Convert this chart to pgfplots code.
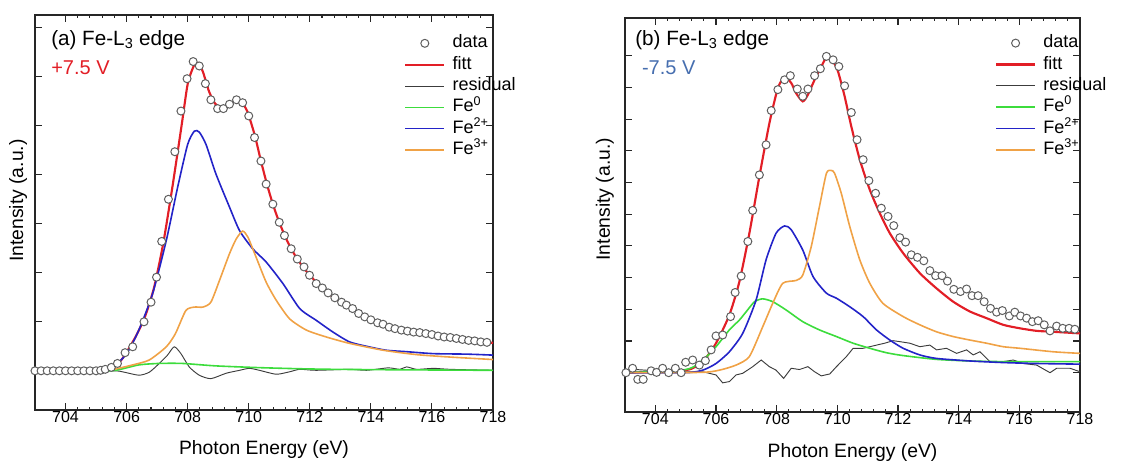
\documentclass[border=0pt]{standalone}
\usepackage{fontspec}
\setmainfont{Liberation Sans}
\usepackage{pgfplots}
\pgfplotsset{compat=1.18}

\definecolor{fitred}{RGB}{226,30,38}
\definecolor{resgray}{RGB}{60,60,60}
\definecolor{fezero}{RGB}{60,220,60}
\definecolor{fetwo}{RGB}{35,35,200}
\definecolor{fethree}{RGB}{240,162,70}
\definecolor{datagray}{RGB}{95,95,95}
\definecolor{negblue}{RGB}{70,110,175}

\pgfplotsset{
  xas/.style={
    scale only axis,
    xmin=703, xmax=718,
    xtick={704,706,...,718},
    minor x tick num=4,
    yticklabels={},
    tick align=inside,
    tick pos=both,
    xticklabel pos=lower,
    major tick length=5pt,
    minor tick length=2.5pt,
    axis line style={line width=0.9pt, black!85},
    tick style={line width=0.8pt, black!85},
    tick label style={font=\fontsize{12}{14}\selectfont},
    /pgf/number format/assume math mode=true,
    xticklabel style={inner sep=1pt},
    label style={font=\fontsize{14.5}{17}\selectfont},
    xlabel={Photon Energy (eV)},
    ylabel={Intensity (a.u.)},
    legend cell align=left,
    legend style={draw=none, fill=none, anchor=north west, inner sep=0pt,
      font=\fontsize{13.5}{16}\selectfont,
      nodes={text height=10pt, text depth=3pt, inner sep=1.5pt}, column sep=4pt},
    legend image code/.code={\draw[#1] (0pt,0pt) -- (29pt,0pt);},
  },
  datastyle/.style={only marks, mark=*, mark size=3pt,
    mark options={draw=datagray, fill=white, line width=0.75pt},
    legend image code/.code={\draw[mark repeat=2,mark phase=2,#1] plot coordinates {(0pt,0pt) (14.5pt,0pt) (29pt,0pt)};}},
  fitstyle/.style={fitred, line width=1.6pt, smooth, tension=0.4},
  resstyle/.style={resgray, line width=0.7pt},
  zerostyle/.style={fezero, line width=1.2pt, smooth, tension=0.4},
  twostyle/.style={fetwo, line width=1.2pt, smooth, tension=0.4},
  threestyle/.style={fethree, line width=1.2pt, smooth, tension=0.4},
}

\begin{document}
\begin{tikzpicture}
\path[use as bounding box] (0pt,0pt) rectangle (847.5pt,345.75pt);

% (a) +7.5 V
\begin{axis}[xas,
  at={(26.25pt,38.25pt)}, anchor=south west,
  width=343.5pt, height=296.25pt,
  ymin=-0.8, ymax=7.26,
  ytick={0,...,7},
  xlabel style={at={(axis description cs:0.5,-0.099)}, anchor=center},
  ylabel style={at={(axis description cs:-0.037,0.53)}, anchor=center},
  legend style={at={(rel axis cs:0.806,0.956)}},
]
\addplot[datastyle] coordinates {
(703.0,0)(703.2,0)(703.4,0)(703.6,0)(703.8,0)(704.0,0)(704.2,0)(704.4,0)(704.6,0)(704.8,0)(705.0,0)(705.15,0.01)(705.3,0.03)(705.5,0.07)(705.7,0.15)(705.95,0.37)(706.2,0.49)(706.57,1.0)(706.8,1.4)(706.98,1.91)(707.15,2.64)(707.37,3.5)(707.58,4.47)(707.78,5.3)(707.98,5.96)(708.18,6.31)(708.38,6.22)(708.58,5.86)(708.76,5.53)(708.98,5.35)(709.17,5.35)(709.37,5.44)(709.6,5.53)(709.8,5.47)(710.0,5.2)(710.19,4.76)(710.4,4.28)(710.57,3.81)(710.79,3.4)(711.0,3.03)(711.17,2.76)(711.39,2.49)(711.59,2.28)(711.81,2.12)(711.99,1.95)(712.21,1.78)(712.41,1.69)(712.6,1.59)(712.82,1.49)(713.04,1.40)(713.2,1.34)(713.4,1.27)(713.6,1.17)(713.8,1.10)(714.0,1.04)(714.22,0.98)(714.4,0.95)(714.6,0.89)(714.79,0.86)(715.0,0.83)(715.2,0.81)(715.4,0.79)(715.6,0.78)(715.8,0.76)(716.0,0.74)(716.2,0.71)(716.4,0.69)(716.6,0.68)(716.8,0.66)(717.0,0.64)(717.2,0.62)(717.4,0.61)(717.6,0.59)(717.8,0.58)
};
\addlegendentry{data}
\addplot[fitstyle] coordinates {
(703,0)(705,0.01)(705.5,0.06)(705.8,0.2)(706.0,0.38)(706.3,0.7)(706.6,1.1)(706.9,1.7)(707.2,2.6)(707.5,3.75)(707.8,5.0)(708.0,5.85)(708.2,6.22)(708.35,6.28)(708.5,6.1)(708.7,5.7)(708.9,5.45)(709.1,5.38)(709.3,5.42)(709.55,5.5)(709.75,5.48)(709.95,5.3)(710.2,4.8)(710.4,4.28)(710.6,3.8)(710.8,3.38)(711.0,3.03)(711.2,2.73)(711.4,2.48)(711.6,2.27)(711.8,2.1)(712.0,1.95)(712.3,1.75)(712.6,1.58)(712.9,1.45)(713.2,1.33)(713.5,1.22)(713.8,1.12)(714.1,1.03)(714.4,0.95)(714.8,0.87)(715.2,0.81)(715.6,0.77)(716.0,0.73)(716.5,0.68)(717.0,0.64)(717.5,0.60)(718,0.57)
};
\addlegendentry{fitt}
\addplot[resstyle, smooth, tension=0.4] coordinates {
(703,0)(705.5,0)(705.86,-0.02)(706.4,-0.09)(706.74,-0.03)(707.07,0.15)(707.34,0.32)(707.56,0.49)(707.78,0.35)(708.05,0.08)(708.38,-0.09)(708.76,-0.16)(709.26,-0.05)(709.7,0.01)(710.02,0.05)(710.35,0.01)(710.9,-0.07)(711.34,-0.02)(711.67,0.03)(712.2,0.01)(713.3,0.03)(713.86,0.01)(714.57,0.06)(714.95,0.03)(715.17,0.08)(715.5,0.03)(716.05,0.05)(716.6,0.03)(718,0.01)
};
\addlegendentry{residual}
\addplot[zerostyle] coordinates {
(703,0)(705.0,0)(705.64,0.01)(706.4,0.12)(707.07,0.15)(707.83,0.15)(708.93,0.10)(710.57,0.06)(712.76,0.03)(718,0.01)
};
\addlegendentry{Fe\textsuperscript{0}}
\addplot[twostyle] coordinates {
(703,0)(705.0,0)(705.5,0.05)(706.0,0.35)(706.4,0.83)(706.85,1.57)(707.3,2.66)(707.67,3.74)(708.0,4.62)(708.22,4.89)(708.38,4.87)(708.6,4.62)(708.93,4.01)(709.37,3.34)(709.7,2.86)(710.13,2.49)(710.57,2.22)(711.12,1.78)(711.67,1.27)(712.21,1.03)(712.76,0.79)(713.3,0.59)(713.86,0.50)(714.5,0.42)(715.17,0.39)(716.05,0.35)(717.14,0.34)(718,0.32)
};
\addlegendentry{Fe\textsuperscript{2+}}
\addplot[threestyle] coordinates {
(703,0)(705.0,0)(705.5,0.02)(706.2,0.12)(706.74,0.22)(707.3,0.49)(707.6,0.76)(707.94,1.23)(708.22,1.30)(708.5,1.30)(708.76,1.40)(709.04,1.84)(709.37,2.39)(709.59,2.69)(709.8,2.85)(709.97,2.73)(710.24,2.32)(710.57,1.81)(710.9,1.44)(711.34,1.06)(711.89,0.83)(712.54,0.69)(713.3,0.56)(714.4,0.42)(715.5,0.33)(716.6,0.28)(718,0.23)
};
\addlegendentry{Fe\textsuperscript{3+}}
\end{axis}

% (b) -7.5 V
\begin{axis}[xas,
  at={(468.75pt,36.75pt)}, anchor=south west,
  width=341.25pt, height=295.5pt,
  ymin=-1.24, ymax=11.19,
  ytick={0,...,10},
  xlabel style={at={(axis description cs:0.5,-0.104)}, anchor=center},
  ylabel style={at={(axis description cs:-0.044,0.54)}, anchor=center},
  legend style={at={(rel axis cs:0.813,0.964)}},
]
\addplot[datastyle] coordinates {
(703.03,0)(703.25,0.14)(703.42,-0.21)(703.6,-0.21)(703.86,0.06)(704.04,0.01)(704.24,0.14)(704.44,0)(704.66,0.14)(704.85,0)(705.0,0.33)(705.23,0.40)(705.45,0.24)(705.65,0.38)(705.84,0.72)(706.0,1.16)(706.22,1.19)(706.48,1.77)(706.63,2.53)(706.83,3.05)(707.05,4.14)(707.21,5.12)(707.43,6.24)(707.65,7.19)(707.82,8.27)(708.04,8.93)(708.26,9.24)(708.45,9.37)(708.68,8.95)(708.86,8.72)(709.03,8.95)(709.25,9.37)(709.44,9.59)(709.64,9.98)(709.86,9.87)(710.05,9.66)(710.24,9.05)(710.46,8.21)(710.65,7.35)(710.85,6.72)(711.04,6.06)(711.26,5.66)(711.45,5.19)(711.67,4.93)(711.86,4.64)(712.06,4.26)(712.25,4.12)(712.44,3.72)(712.64,3.64)(712.85,3.53)(713.05,3.22)(713.24,3.06)(713.45,3.06)(713.63,2.89)(713.84,2.63)(714.06,2.56)(714.26,2.64)(714.44,2.43)(714.64,2.43)(714.84,2.24)(715.05,2.03)(715.25,1.91)(715.44,1.96)(715.67,1.79)(715.85,1.91)(716.04,1.79)(716.24,1.72)(716.43,1.61)(716.62,1.64)(716.82,1.51)(717.01,1.32)(717.23,1.47)(717.43,1.40)(717.64,1.40)(717.83,1.37)
};
\addlegendentry{data}
\addplot[fitstyle] coordinates {
(703.03,0)(705.0,0.08)(705.56,0.35)(706.0,0.93)(706.44,1.82)(706.77,2.87)(707.1,4.4)(707.43,6.19)(707.76,7.87)(708.04,8.98)(708.26,9.32)(708.48,9.14)(708.64,8.82)(708.86,8.56)(709.03,8.77)(709.25,9.24)(709.47,9.66)(709.66,9.96)(709.86,9.82)(710.02,9.51)(710.24,8.72)(710.46,7.77)(710.74,6.72)(711.07,5.77)(711.4,5.03)(711.73,4.4)(712.17,3.77)(712.72,3.14)(713.27,2.66)(713.82,2.24)(714.37,1.93)(714.92,1.72)(715.47,1.51)(716.02,1.40)(716.57,1.32)(717.12,1.29)(718,1.24)
};
\addlegendentry{fitt}
\addplot[resstyle] coordinates {
(703.03,0)(703.36,0.1)(704.46,0.03)(705.56,0.03)(706.0,-0.07)(706.22,-0.32)(706.44,-0.28)(706.66,-0.07)(706.88,-0.02)(707.21,0.19)(707.49,0.4)(707.76,0.19)(707.98,0.08)(708.23,-0.18)(708.48,0.14)(708.75,0.1)(709.03,0.19)(709.25,0.03)(709.47,-0.1)(709.75,-0.04)(709.97,0.19)(710.3,0.51)(710.52,0.77)(710.85,0.77)(711.07,0.82)(711.29,0.87)(711.56,0.93)(711.84,1.01)(712.06,0.98)(712.39,0.93)(712.72,0.82)(713.05,0.87)(713.27,0.72)(713.6,0.77)(713.93,0.61)(714.26,0.72)(714.48,0.56)(714.7,0.66)(715.03,0.35)(715.47,0.35)(715.8,0.4)(716.13,0.29)(716.57,0.24)(717.01,0)(717.23,0.14)(717.67,0.14)(718,0.03)
};
\addlegendentry{residual}
\addplot[zerostyle] coordinates {
(703,0)(705.0,0.1)(705.56,0.4)(706.0,0.82)(706.44,1.35)(706.77,1.66)(707.0,1.93)(707.27,2.24)(707.54,2.33)(707.87,2.24)(708.31,1.98)(708.86,1.61)(709.41,1.35)(709.97,1.14)(710.52,0.93)(711.07,0.77)(711.62,0.63)(712.17,0.54)(713.27,0.42)(714.37,0.37)(715.47,0.35)(718,0.35)
};
\addlegendentry{Fe\textsuperscript{0}}
\addplot[twostyle] coordinates {
(703,0)(705.0,0)(705.56,0.08)(706.0,0.29)(706.44,0.66)(706.88,1.24)(707.32,2.29)(707.65,3.56)(707.98,4.4)(708.26,4.63)(708.48,4.51)(708.86,3.87)(709.2,3.03)(709.64,2.51)(709.97,2.35)(710.41,2.08)(710.85,1.77)(711.29,1.35)(711.73,1.03)(712.17,0.77)(712.72,0.56)(713.27,0.45)(714.37,0.37)(715.47,0.32)(716.57,0.29)(718,0.27)
};
\addlegendentry{Fe\textsuperscript{2+}}
\addplot[threestyle] coordinates {
(703,0)(705.5,0.01)(706.11,0.08)(706.66,0.24)(707.1,0.51)(707.54,1.45)(707.87,2.19)(708.2,2.82)(708.64,2.91)(708.86,3.08)(709.14,3.98)(709.41,5.24)(709.64,6.29)(709.8,6.38)(709.91,6.29)(710.13,5.66)(710.41,4.61)(710.74,3.56)(711.07,2.82)(711.5,2.19)(712.17,1.77)(712.72,1.51)(713.27,1.29)(713.82,1.14)(714.37,1.03)(714.92,0.93)(715.47,0.82)(716.02,0.77)(717.12,0.66)(718,0.61)
};
\addlegendentry{Fe\textsuperscript{3+}}
\end{axis}

\node[anchor=west, inner sep=0pt, font=\fontsize{15.5}{18}\selectfont] at (38.25pt,315.75pt) {(a) Fe-L\textsubscript{3} edge};
\node[anchor=west, inner sep=0pt, font=\fontsize{15}{18}\selectfont, text=fitred] at (38.25pt,294.75pt) {+7.5 V};
\node[anchor=west, inner sep=0pt, font=\fontsize{15.5}{18}\selectfont] at (476.25pt,315.75pt) {(b) Fe-L\textsubscript{3} edge};
\node[anchor=west, inner sep=0pt, font=\fontsize{15}{18}\selectfont, text=negblue] at (481.3pt,294.75pt) {-7.5 V};
\end{tikzpicture}
\end{document}
